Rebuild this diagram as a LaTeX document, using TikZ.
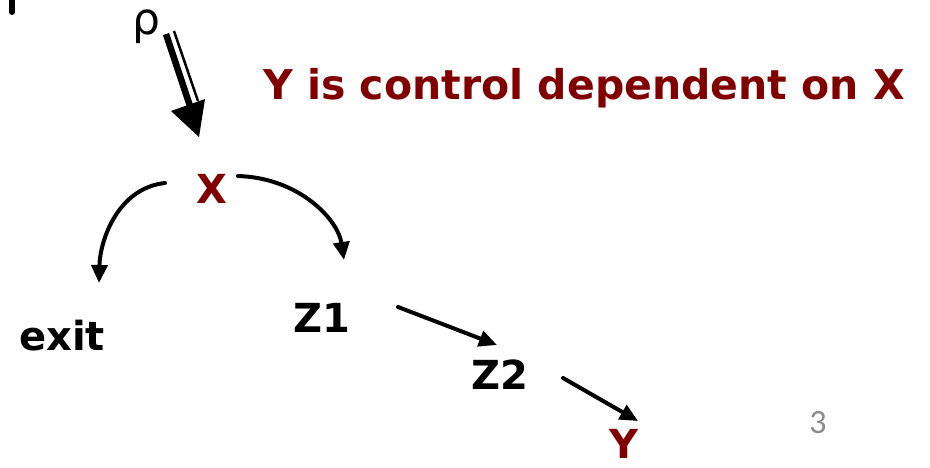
\documentclass[tikz,border=0pt]{standalone}
\usepackage{fontspec}
\setmainfont{DejaVu Sans}
\newfontfamily\rhofont{DejaVu Sans}
\newfontfamily\numfont{Carlito}
\usetikzlibrary{arrows.meta}
\definecolor{darkred}{RGB}{128,0,0}
\definecolor{pagegray}{RGB}{140,140,140}
\tikzset{
  lbl/.style={inner sep=0pt, font=\fontsize{40}{44}\selectfont\bfseries},
  redlbl/.style={lbl, text=darkred},
  flow/.style={line width=4pt, line cap=round, -{Triangle[length=18pt,width=16pt]}},
}
\begin{document}
\begin{tikzpicture}[x=1pt,y=-1pt]
\useasboundingbox (0,0) rectangle (930,467);
% cropped mark at top left
\draw[line width=6pt, line cap=round] (12,0) -- (12,12);
% nodes
\node[inner sep=0pt, font=\rhofont\fontsize{44}{48}\selectfont] (rho) at (146,27) {ρ};
\node[redlbl, font=\fontsize{41}{45}\selectfont\bfseries] (title) at (584,88) {Y is control dependent on X};
\node[redlbl] (X) at (212,189) {X};
\node[lbl] (exit) at (62,336) {exit};
\node[lbl] (Z1) at (322,318) {Z1};
\node[lbl] (Z2) at (500,375) {Z2};
\node[redlbl] (Y) at (624,444) {Y};
\node[inner sep=0pt, text=pagegray, font=\numfont\fontsize{34}{38}\selectfont] (page) at (818,423) {3};
% connector end points
\coordinate (rhoA) at (166,34);
\coordinate (rhoB) at (174,31);
\coordinate (xin) at (199,137);
\coordinate (xl) at (165,183);
\coordinate (exin) at (99,283);
\coordinate (xr) at (238,176);
\coordinate (z1in) at (344,260);
\coordinate (z1out) at (398,307);
\coordinate (z2in) at (497,345);
\coordinate (z2out) at (563,378);
\coordinate (yin) at (638,421);
% double arrow from rho into X
\draw[line width=6.5pt] (rhoA) -- (190,106);
\draw[line width=2.5pt] (rhoB) -- (198,101);
\fill (xin) -- (171,111) -- (205,99) -- cycle;
% control flow edges
\draw[flow] (xl) .. controls (118,188) and (100,240) .. (exin);
\draw[flow] (xr) .. controls (300,178) and (338,220) .. (z1in);
\draw[flow] (z1out) -- (z2in);
\draw[flow] (z2out) -- (yin);
\end{tikzpicture}
\end{document}
